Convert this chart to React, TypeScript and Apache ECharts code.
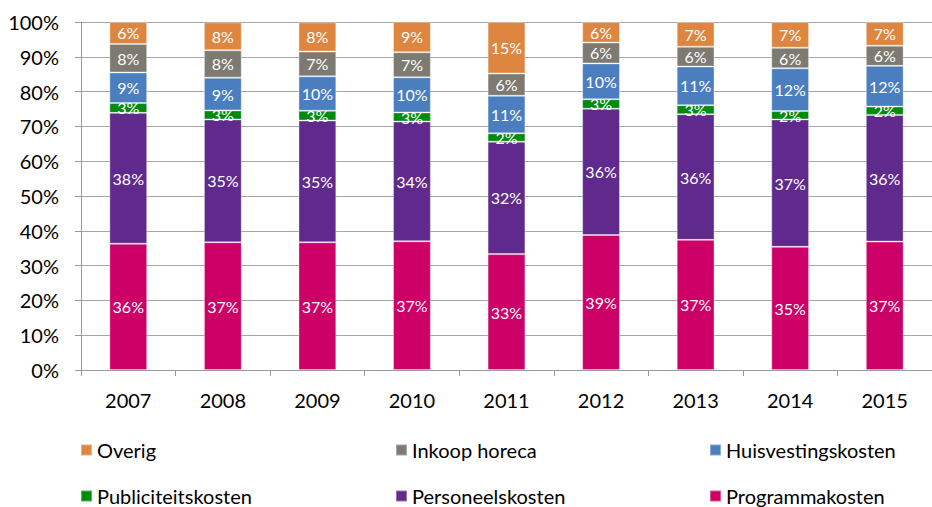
import React, { useEffect, useRef } from "react";
import * as echarts from "echarts";

const years = ["2007", "2008", "2009", "2010", "2011", "2012", "2013", "2014", "2015"];
const programmakosten = [36.3, 36.7, 36.7, 37.0, 33.3, 38.8, 37.4, 35.4, 36.9];
const personeelskosten = [37.6, 35.3, 35.0, 34.4, 32.3, 36.3, 36.1, 36.6, 36.4];
const publiciteitskosten = [2.8, 2.6, 2.8, 2.6, 2.4, 2.7, 2.6, 2.4, 2.4];
const huisvestingskosten = [8.8, 9.4, 9.9, 10.1, 10.8, 10.3, 11.1, 12.3, 11.7];
const inkoopHoreca = [8.2, 7.9, 7.1, 7.2, 6.4, 6.0, 5.7, 5.9, 5.8];
const overig = [6.3, 8.0, 8.4, 8.8, 14.8, 5.9, 7.1, 7.4, 6.8];
const yTicks = [0, 10, 20, 30, 40, 50, 60, 70, 80, 90, 100];

const seriesDefs = [
  { name: "Programmakosten", data: programmakosten, color: "#CC0066" },
  { name: "Personeelskosten", data: personeelskosten, color: "#5F2A8B" },
  { name: "Publiciteitskosten", data: publiciteitskosten, color: "#008A0E" },
  { name: "Huisvestingskosten", data: huisvestingskosten, color: "#4A7EBF" },
  { name: "Inkoop horeca", data: inkoopHoreca, color: "#7D7A71" },
  { name: "Overig", data: overig, color: "#DE8640" },
];

const legendLayout = [
  { name: "Overig", left: 80, top: 440 },
  { name: "Inkoop horeca", left: 395, top: 440 },
  { name: "Huisvestingskosten", left: 709, top: 440 },
  { name: "Publiciteitskosten", left: 80, top: 486 },
  { name: "Personeelskosten", left: 395, top: 486 },
  { name: "Programmakosten", left: 709, top: 486 },
];

const FONT = "Lato, 'Open Sans', sans-serif";

export default function App() {
  const ref = useRef<HTMLDivElement>(null);
  useEffect(() => {
    if (!ref.current) return;
    const chart = echarts.init(ref.current, undefined, { renderer: "svg" });
    chart.setOption({
      animation: false,
      textStyle: { fontFamily: FONT },
      grid: { left: 81, top: 22, bottom: 137, right: -10, containLabel: false },
      legend: legendLayout.map((l) => ({
        data: [l.name],
        left: l.left,
        top: l.top,
        padding: 0,
        icon: "rect",
        itemWidth: 11,
        itemHeight: 11,
        itemGap: 0,
        selectedMode: false,
        textStyle: { fontSize: 20, color: "#000", fontFamily: FONT, lineHeight: 20 },
      })),
      xAxis: {
        type: "category",
        data: years,
        axisLine: { lineStyle: { color: "#999999", width: 1 } },
        axisTick: { show: true, length: 6, lineStyle: { color: "#999999" } },
        axisLabel: { fontSize: 20, color: "#000", margin: 20, fontFamily: FONT },
      },
      yAxis: {
        type: "value",
        min: yTicks[0],
        max: yTicks[yTicks.length - 1],
        interval: 10,
        axisLine: { show: true, lineStyle: { color: "#999999", width: 1 } },
        axisTick: { show: true, length: 6, lineStyle: { color: "#999999" } },
        splitLine: { lineStyle: { color: "#A6A6A6", width: 1 } },
        axisLabel: {
          fontSize: 20,
          color: "#000",
          margin: 22,
          fontFamily: FONT,
          formatter: (v: number) => v + "%",
        },
      },
      series: seriesDefs.map((s) => ({
        name: s.name,
        type: "bar",
        stack: "total",
        data: s.data,
        barWidth: "40%",
        itemStyle: { color: s.color, borderColor: "rgba(255,255,255,0.35)", borderWidth: 1 },
        label: {
          show: true,
          position: "inside",
          color: "#fff",
          fontSize: 16,
          fontFamily: FONT,
          formatter: (p: any) => Math.round(p.value) + "%",
        },
      })),
    });
    return () => chart.dispose();
  }, []);
  return (
    <div
      ref={ref}
      style={{ position: "absolute", left: 0, top: 0, width: 932, height: 507, background: "#fff" }}
    />
  );
}
